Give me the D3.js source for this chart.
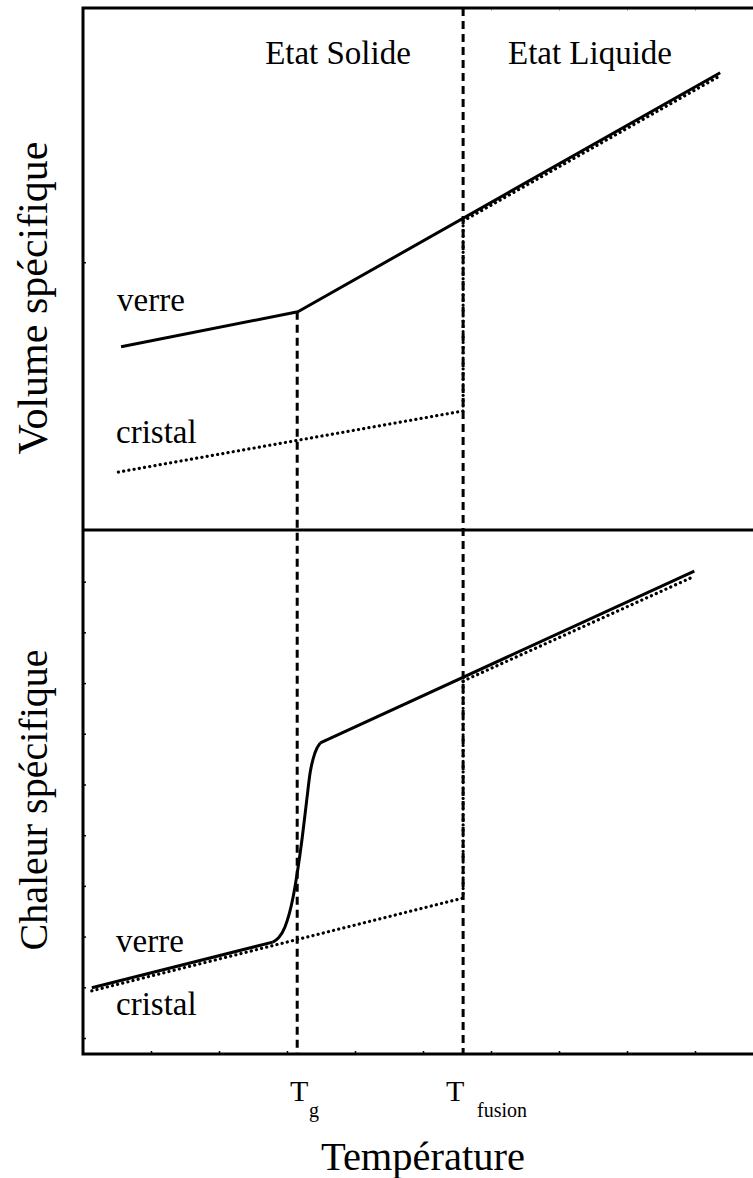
<!DOCTYPE html>
<html><head><meta charset="utf-8">
<script src="https://cdn.jsdelivr.net/npm/d3@7"></script>
<style>body{margin:0;background:#fff}svg{display:block}text{font-family:"Liberation Serif","Times New Roman",serif;fill:#000}</style>
</head><body><svg id="c" width="753" height="1178"></svg>
<script>
// Temperature in axis-tick units; Tg and Tfusion marks
const Tg = 3.15, Tfusion = 5.59;
const xTicks = [1,2,3,4,5,6,7,8,9];
// Top panel: specific volume
const volVerre = [[0.56,3.51],[3.16,4.18],[9.37,8.76]];
const volLiquide = [[5.59,5.92],[9.34,8.68]];
const volCristal = [[0.52,1.11],[5.59,2.28],[5.59,5.92]];
const volTicks = [5.13];
// Bottom panel: specific heat (glass: low line, transition curve, liquid line)
const cpVerreLow = [[0.13,0.99],[2.79,1.89]];
const cpVerreTrans = [[2.79,1.89],[2.97,2.19],[3.09,2.78],[3.15,3.25],[3.22,3.91],[3.29,4.69],[3.34,5.23],[3.41,5.62],[3.49,5.82]];
const cpVerreHigh = [[3.49,5.82],[8.99,9.21]];
const cpCristal = [[0.13,0.93],[5.59,2.76],[5.59,7.04]];
const cpLiquide = [[5.59,7.04],[8.93,9.07]];
const cpTicks = [0,1,2,3,4,5,6,7,8,9];

const svg = d3.select("#c");
const left=83, right=753, topY=8, midY=530, botY=1054;
const x = d3.scaleLinear().domain([0,(right-left)/68]).range([left,right]);
const yTop = d3.scaleLinear().domain([0,10]).range([midY,topY]);
const yBot = d3.scaleLinear().domain([-0.316,(botY-midY)/50.7-0.316]).range([botY,midY]);

function path(data, ys, dash, curve){
  const g = d3.line().x(d=>x(d[0])).y(d=>ys(d[1])).curve(curve||d3.curveLinear);
  const p = svg.append("path").attr("d", g(data)).attr("fill","none").attr("stroke","#000");
  if(dash==="dot"){p.attr("stroke-width",3.2).attr("stroke-dasharray","0.1 5.2").attr("stroke-linecap","round");}
  else {p.attr("stroke-width",3).attr("stroke-linejoin","round");}
  return p;
}

// axes ticks (tiny, inside)
svg.append("g").attr("transform",`translate(0,${botY})`)
  .call(d3.axisTop(x).tickValues(xTicks).tickSize(3).tickFormat(""))
  .call(g=>{g.select(".domain").remove(); g.selectAll("line").attr("stroke-width",1.5);});
svg.append("g").attr("transform",`translate(0,${topY})`)
  .call(d3.axisBottom(x).tickValues(xTicks.filter(d=>d>=6)).tickSize(3).tickFormat(""))
  .call(g=>{g.select(".domain").remove(); g.selectAll("line").attr("stroke","#bbb");});
svg.append("g").attr("transform",`translate(${left},0)`)
  .call(d3.axisRight(yBot).tickValues(cpTicks).tickSize(3).tickFormat(""))
  .call(g=>{g.select(".domain").remove(); g.selectAll("line").attr("stroke-width",1.5);});
svg.append("g").attr("transform",`translate(${left},0)`)
  .call(d3.axisRight(yTop).tickValues(volTicks).tickSize(3).tickFormat(""))
  .call(g=>{g.select(".domain").remove(); g.selectAll("line").attr("stroke-width",1.5);});

// frame
svg.append("path").attr("d",`M${right+5},${topY}H${left}V${botY}H${right+5}M${left},${midY}H${right+5}`)
  .attr("fill","none").attr("stroke","#000").attr("stroke-width",3);

// dashed verticals
svg.append("line").attr("x1",x(Tg)).attr("x2",x(Tg)).attr("y1",yTop(volVerre[1][1])).attr("y2",botY)
  .attr("stroke","#000").attr("stroke-width",3).attr("stroke-dasharray","8 5");
svg.append("line").attr("x1",x(Tfusion)).attr("x2",x(Tfusion)).attr("y1",topY).attr("y2",botY)
  .attr("stroke","#000").attr("stroke-width",3).attr("stroke-dasharray","8 5");

// top curves
path(volCristal, yTop, "dot");
path(volLiquide, yTop, "dot");
path(volVerre, yTop);
// bottom curves
path(cpCristal, yBot, "dot");
path(cpLiquide, yBot, "dot");
path(cpVerreLow, yBot);
path(cpVerreTrans, yBot, null, d3.curveMonotoneX);
path(cpVerreHigh, yBot);

// texts
const T = (t,xx,yy,size,anchor)=>svg.append("text").attr("x",xx).attr("y",yy).attr("font-size",size).attr("text-anchor",anchor||"start").text(t);
T("Etat Solide",338,64,33,"middle");
T("Etat Liquide",590,64,33,"middle");
T("verre",117,311,33);
T("cristal",116,443,33);
T("verre",116,952,33);
T("cristal",116,1015,33);
svg.append("text").attr("transform","translate(47,298) rotate(-90)").attr("text-anchor","middle").attr("font-size",42).text("Volume spécifique");
svg.append("text").attr("transform","translate(47,800) rotate(-90)").attr("text-anchor","middle").attr("font-size",40).text("Chaleur spécifique");
T("T",290,1101,30); T("g",309,1117,20);
T("T",446,1101,30); T("fusion",477,1117,20);
T("Température",423,1170,40.5,"middle");
</script></body></html>
